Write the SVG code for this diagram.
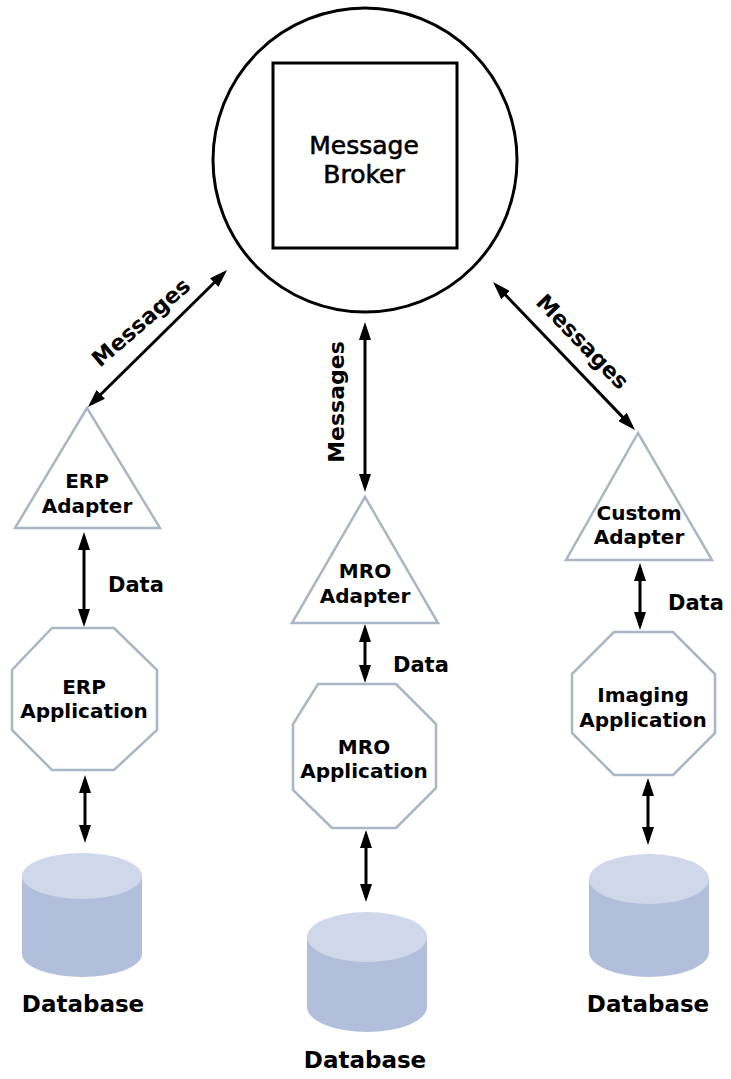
<svg xmlns="http://www.w3.org/2000/svg" width="731" height="1079" viewBox="0 0 731 1079">
<style>
.lbl{font-family:"DejaVu Sans","Liberation Sans",sans-serif;font-weight:bold;font-size:20px;fill:#000;text-anchor:middle}
.brk{font-family:"DejaVu Sans","Liberation Sans",sans-serif;font-size:25px;fill:#000;stroke:#000;stroke-width:0.6;text-anchor:middle}
.msg{font-size:22px}
.db{font-size:23px}
.data{font-size:21px;text-anchor:start}
.shape{fill:#fff;stroke:#a9b6c6;stroke-width:2.5}
.conn{stroke:#000;stroke-width:3;fill:none;marker-start:url(#ah);marker-end:url(#ah)}
.side{fill:#b2bfdc}
.top{fill:#cfd8ea}
</style>
<defs>
<marker id="ah" viewBox="0 0 18 12" refX="13" refY="6" markerWidth="18" markerHeight="12" markerUnits="userSpaceOnUse" orient="auto-start-reverse">
<path d="M0,0 L18,6 L0,12 z" fill="#000"/>
</marker>
</defs>
<rect width="731" height="1079" fill="#fff"/>

<g id="broker">
<circle cx="365" cy="160" r="152" fill="#fff" stroke="#000" stroke-width="3"/>
<rect x="273" y="63" width="184" height="185" fill="#fff" stroke="#000" stroke-width="3"/>
<text class="brk" x="364" y="154">Message</text>
<text class="brk" x="364" y="183">Broker</text>
</g>

<g id="connectors">
<line class="conn" x1="91.5" y1="403.5" x2="223.5" y2="273.5"/>
<line class="conn" x1="365" y1="327" x2="365" y2="487"/>
<line class="conn" x1="496.5" y1="285.6" x2="631.5" y2="426.4"/>
<line class="conn" x1="84" y1="537" x2="84" y2="622"/>
<line class="conn" x1="365" y1="629" x2="365" y2="678"/>
<line class="conn" x1="640" y1="568" x2="640" y2="625"/>
<line class="conn" x1="85" y1="780" x2="85" y2="838"/>
<line class="conn" x1="366" y1="835" x2="366" y2="897"/>
<line class="conn" x1="648" y1="783" x2="648" y2="840"/>
<text class="lbl msg" transform="translate(146,328) rotate(-41)">Messages</text>
<text class="lbl msg" transform="translate(344,402) rotate(-90)">Messages</text>
<text class="lbl msg" transform="translate(577,347) rotate(46)">Messages</text>
<text class="lbl data" x="108" y="592">Data</text>
<text class="lbl data" x="393" y="672">Data</text>
<text class="lbl data" x="668" y="610">Data</text>
</g>

<g id="erp-adapter">
<polygon class="shape" points="87,408 15,528 160,528"/>
<text class="lbl" x="87" y="488">ERP</text>
<text class="lbl" x="87" y="513">Adapter</text>
</g>
<g id="mro-adapter">
<polygon class="shape" points="365,497 292,623 438,623"/>
<text class="lbl" x="365" y="578">MRO</text>
<text class="lbl" x="365" y="603">Adapter</text>
</g>
<g id="custom-adapter">
<polygon class="shape" points="638,433 566,560 712,560"/>
<text class="lbl" x="639" y="520">Custom</text>
<text class="lbl" x="639" y="544">Adapter</text>
</g>

<g id="erp-application">
<polygon class="shape" points="52,628 114,628 157,670 157,730 114,770 52,770 12,730 12,670"/>
<text class="lbl" x="84" y="694">ERP</text>
<text class="lbl" x="84" y="718">Application</text>
</g>
<g id="mro-application">
<polygon class="shape" points="318,684 396,684 436,724 436,788 396,828 332,828 293,790 293,724"/>
<text class="lbl" x="364" y="754">MRO</text>
<text class="lbl" x="364" y="778">Application</text>
</g>
<g id="imaging-application">
<polygon class="shape" points="614,632 673,632 715,674 715,733 673,775 614,775 572,733 572,674"/>
<text class="lbl" x="643" y="702">Imaging</text>
<text class="lbl" x="643" y="727">Application</text>
</g>

<g id="erp-database">
<path class="side" d="M22,876 L22,954 A60,23 0 0 0 142,954 L142,876 Z"/>
<ellipse class="top" cx="82" cy="876" rx="60" ry="23"/>
<text class="lbl db" x="83" y="1012">Database</text>
</g>
<g id="mro-database">
<path class="side" d="M307,937 L307,1007 A60,25 0 0 0 427,1007 L427,937 Z"/>
<ellipse class="top" cx="367" cy="937" rx="60" ry="25"/>
<text class="lbl db" x="365" y="1068">Database</text>
</g>
<g id="imaging-database">
<path class="side" d="M589,879 L589,952 A60,25 0 0 0 709,952 L709,879 Z"/>
<ellipse class="top" cx="649" cy="879" rx="60" ry="25"/>
<text class="lbl db" x="648" y="1012">Database</text>
</g>
</svg>
